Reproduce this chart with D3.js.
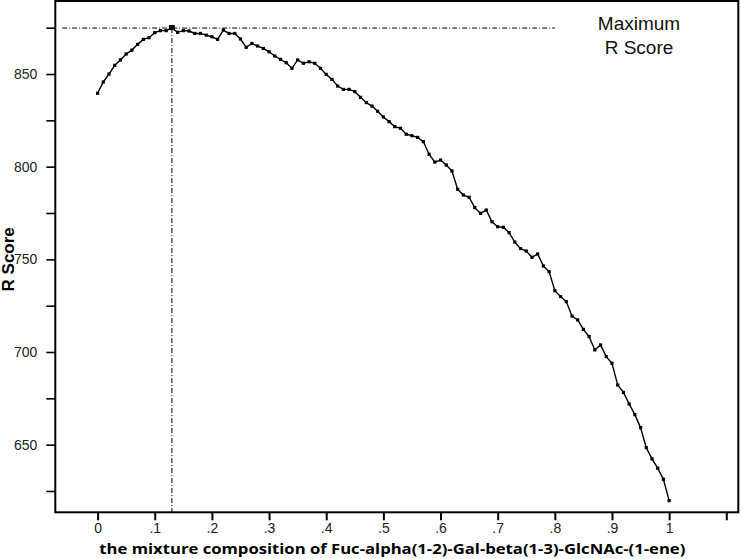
<!DOCTYPE html>
<html>
<head>
<meta charset="utf-8">
<script src="https://cdn.jsdelivr.net/npm/d3@7"></script>
<style>
    body { margin: 0; background: #fff; }
    svg { display: block; }
    .tickLabel { font-family: "Liberation Sans", Arial, sans-serif; font-size: 14px; fill: #222; }
</style>
</head>
<body>
<div id="chart"></div>
<script>
// mixture composition (0 .. 1, step .01)
const composition = d3.range(0, 101).map((i) => i / 100);
// R score
const rScore = [
    839.6, 845.7, 850.0, 854.7, 857.6, 860.8, 862.9, 866.0, 868.7, 869.6,
    872.3, 873.4, 873.4, 874.8, 872.5, 873.4, 873.2, 871.9, 871.9, 871.0,
    870.1, 868.7, 873.7, 871.9, 871.9, 868.9, 864.4, 866.5, 865.1, 863.8,
    862.0, 859.7, 857.9, 856.1, 853.1, 857.6, 855.8, 856.6, 855.8, 853.1,
    849.8, 847.1, 843.5, 841.7, 841.7, 840.5, 837.4, 834.6, 832.7, 829.9,
    826.8, 824.3, 821.6, 820.7, 817.5, 816.7, 815.8, 813.5, 806.7, 802.5,
    803.6, 800.9, 797.7, 787.8, 784.7, 783.5, 777.9, 774.8, 776.6, 770.3,
    767.6, 767.3, 764.4, 759.3, 755.8, 754.5, 751.1, 752.9, 746.4, 743.4,
    733.1, 729.9, 727.2, 719.4, 717.3, 712.2, 708.3, 701.1, 703.8, 697.5,
    693.9, 682.2, 678.2, 672.0, 666.2, 659.2, 648.4, 642.3, 637.3, 631.3,
    619.8
];
const xTicks = [0, 0.1, 0.2, 0.3, 0.4, 0.5, 0.6, 0.7, 0.8, 0.9, 1, 1.1];
const xTickLabels = ["0", ".1", ".2", ".3", ".4", ".5", ".6", ".7", ".8", ".9", "1", ""];
const yTicks = [625, 650, 675, 700, 725, 750, 775, 800, 825, 850, 875];
const xTitle = "the mixture composition of Fuc-alpha(1-2)-Gal-beta(1-3)-GlcNAc-(1-ene)";
const yTitle = "R Score";
const noteLines = ["Maximum", "R Score"];
const guideEndX = 0.8;

const width = 742, height = 559;
const box = {left: 55.3, right: 738.3, top: 1, bottom: 512.3};

let data = composition.map((c, i) => ({x: c, y: rScore[i]}));
let best = data.reduce((a, b) => (b.y > a.y ? b : a));

let svg = d3.select("#chart").append("svg")
    .attr("width", width)
    .attr("height", height);

let xSc = d3.scaleLinear().domain([-0.074, 1.121]).range([box.left, box.right]);
let ySc = d3.scaleLinear().domain([613.5, 889.4]).range([box.bottom, box.top]);

// frame
svg.append("rect")
    .attr("x", box.left)
    .attr("y", box.top)
    .attr("width", box.right - box.left)
    .attr("height", box.bottom - box.top)
    .attr("fill", "none")
    .attr("stroke", "#000")
    .attr("stroke-width", 2);

// x axis
let xAxis = svg.append("g")
    .attr("transform", "translate(0," + box.bottom + ")")
    .call(d3.axisBottom(xSc).tickValues(xTicks).tickSize(8).tickPadding(3)
        .tickFormat((d, i) => xTickLabels[i]));
xAxis.select(".domain").remove();
xAxis.selectAll("line").attr("stroke-width", 2);
xAxis.selectAll("text").attr("class", "tickLabel").attr("font-size", null).attr("font-family", null);

// y axis
let yAxis = svg.append("g")
    .attr("transform", "translate(" + box.left + ",0)")
    .call(d3.axisLeft(ySc).tickValues(yTicks).tickSize(9).tickPadding(9)
        .tickFormat((d) => (d % 50 === 0 ? d : "")));
yAxis.select(".domain").remove();
yAxis.selectAll("line").attr("stroke-width", 1.6);
yAxis.selectAll("text").attr("class", "tickLabel").attr("font-size", null).attr("font-family", null);

// axis titles
svg.append("text")
    .attr("x", (xSc(0) + xSc(1)) / 2 + 9)
    .attr("y", 554)
    .attr("text-anchor", "middle")
    .attr("font-family", "Open Sans, sans-serif")
    .attr("font-weight", "bold")
    .attr("font-size", 14)
    .attr("textLength", 586)
    .attr("lengthAdjust", "spacingAndGlyphs")
    .text(xTitle);

svg.append("text")
    .attr("transform", "translate(14," + ySc(750) + ") rotate(-90)")
    .attr("text-anchor", "middle")
    .attr("font-family", "Liberation Sans, Arial, sans-serif")
    .attr("font-weight", "bold")
    .attr("font-size", 17)
    .text(yTitle);

// maximum guides
svg.append("line")
    .attr("x1", xSc(-0.062)).attr("x2", xSc(guideEndX))
    .attr("y1", ySc(best.y)).attr("y2", ySc(best.y))
    .attr("stroke", "#000")
    .attr("stroke-width", 1)
    .attr("stroke-dasharray", "5,2,1,2");

svg.append("line")
    .attr("x1", xSc(best.x)).attr("x2", xSc(best.x))
    .attr("y1", ySc(best.y)).attr("y2", box.bottom)
    .attr("stroke", "#000")
    .attr("stroke-width", 1)
    .attr("stroke-dasharray", "5,2,1,2");

// curve
let line = d3.line().x((d) => xSc(d.x)).y((d) => ySc(d.y));
svg.append("path")
    .datum(data)
    .attr("d", line)
    .attr("fill", "none")
    .attr("stroke", "#000")
    .attr("stroke-width", 1.4);

svg.selectAll(".pt")
    .data(data)
    .enter().append("rect")
    .attr("class", "pt")
    .attr("x", (d) => xSc(d.x) - 1.6)
    .attr("y", (d) => ySc(d.y) - 1.6)
    .attr("width", 3.2)
    .attr("height", 3.2)
    .attr("fill", "#000");

svg.append("rect")
    .attr("x", xSc(best.x) - 3)
    .attr("y", ySc(best.y) - 3)
    .attr("width", 6)
    .attr("height", 5)
    .attr("fill", "#000");

// note
let note = svg.append("text")
    .attr("text-anchor", "middle")
    .attr("font-family", "Liberation Sans, Arial, sans-serif")
    .attr("font-size", 19)
    .attr("fill", "#111");
noteLines.forEach((t, i) => {
    note.append("tspan").attr("x", 639).attr("y", 30 + i * 24).text(t);
});
</script>
</body>
</html>
